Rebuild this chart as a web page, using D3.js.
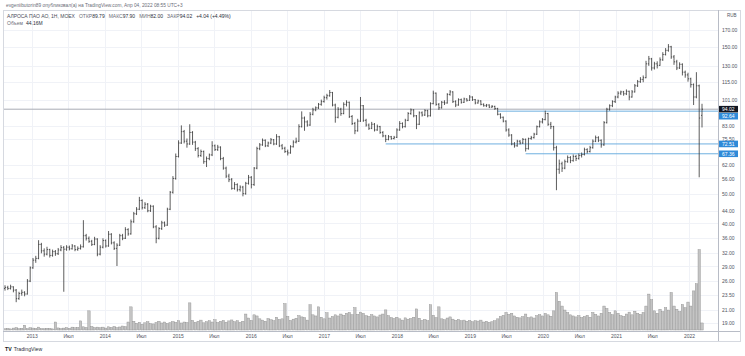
<!DOCTYPE html>
<html><head><meta charset="utf-8">
<script src="https://cdn.jsdelivr.net/npm/d3@7"></script>
<style>
body{margin:0;background:#fff;}
svg{display:block;font-family:"Liberation Sans",Arial,sans-serif;}
</style></head><body>
<svg id="c" width="745" height="356"></svg>
<script>
// ---- DATA (two-week OHLC bars, RUB; volume = avg weekly, millions) ----
const firstPeriod = "2012-08-20";
const closedPeriods = ["2022-03-07"];
const opens = [
24.6,24.8,24.6,24.9,24.3,22.8,23.7,23.9,23.6,26.0,
28.7,30.4,30.8,34.2,32.6,31.8,32.9,31.5,32.4,31.9,
32.8,33.4,33.0,33.5,33.1,33.8,32.9,33.2,33.6,36.5,
35.8,35.0,34.2,35.6,31.8,33.5,35.2,33.8,36.9,34.6,
33.2,34.0,36.5,35.8,38.2,37.0,40.5,43.0,44.5,47.5,
45.0,46.2,44.0,45.5,39.0,35.8,38.5,40.2,39.5,44.5,
50.5,56.0,66.0,73.0,79.5,74.0,72.5,79.0,73.5,70.0,
66.5,68.5,63.5,65.0,66.8,71.5,69.5,70.8,65.0,60.5,
57.0,55.5,52.0,53.5,51.5,52.5,50.0,54.0,56.5,53.5,
60.5,70.0,72.0,74.5,71.5,73.0,74.8,72.5,76.5,71.5,
70.2,68.5,67.8,71.0,73.5,74.0,82.5,88.0,85.5,83.5,
90.5,93.5,95.0,97.5,99.5,102.5,104.0,106.5,97.0,88.5,
94.0,91.0,97.5,99.0,89.0,84.5,80.0,86.0,96.5,86.5,
83.5,81.5,84.0,80.5,82.5,79.0,77.0,75.0,76.5,75.5,
76.2,80.5,84.5,82.5,86.5,91.0,93.5,89.5,84.0,91.5,
90.0,93.0,89.5,98.0,106.0,97.5,95.0,99.0,98.5,105.0,
107.0,99.5,97.0,101.0,99.0,101.5,100.5,103.0,101.0,98.5,
100.0,97.5,96.5,97.0,95.5,96.0,94.5,90.5,88.5,86.0,
80.5,77.5,72.5,71.5,74.0,73.0,75.0,70.0,75.5,76.0,
78.0,82.5,85.5,87.0,91.0,84.0,82.5,70.5,60.0,62.5,
60.5,63.5,65.5,64.0,66.0,65.0,66.5,67.0,69.5,68.5,
70.5,74.0,76.0,74.5,72.0,85.0,94.0,96.5,99.5,103.0,
106.0,107.0,105.5,107.5,103.0,107.0,112.0,115.5,117.5,119.0,
132.0,137.0,128.0,132.0,130.5,136.0,141.5,146.0,150.0,139.0,
134.0,128.0,131.5,124.0,121.5,118.0,113.0,103.0,112.0,89.79];
const highs = [
25.2,25.1,25.3,25.0,24.5,24.0,24.4,24.1,26.4,29.0,
30.9,31.4,35.3,34.6,33.2,33.6,33.1,32.9,32.8,33.3,
34.0,33.8,34.0,33.9,34.3,34.0,33.7,34.2,41.0,37.0,
36.3,35.4,36.2,35.8,34.0,35.8,35.5,37.8,37.2,35.0,
34.5,37.0,37.0,38.9,38.6,41.2,43.6,45.2,48.8,47.9,
46.9,46.6,46.0,45.8,39.5,38.9,40.8,40.6,45.0,51.0,
57.0,67.5,74.5,83.3,80.5,75.5,84.0,79.8,74.2,70.8,
69.5,69.0,66.0,67.5,74.0,72.2,72.0,71.2,65.8,61.2,
58.0,56.2,54.5,54.0,53.2,53.0,54.6,57.5,57.0,61.0,
71.0,73.0,75.5,75.0,73.8,75.8,75.2,78.0,77.0,72.5,
71.0,69.5,71.8,74.5,76.0,84.0,92.5,89.0,86.5,92.0,
95.0,96.0,98.5,101.0,104.0,105.5,108.5,107.0,98.0,95.5,
95.0,99.0,100.5,99.5,90.0,85.5,87.5,103.0,97.0,87.5,
84.5,85.5,84.8,83.8,83.0,79.8,77.6,77.5,77.0,77.0,
81.5,86.0,85.2,87.5,92.0,94.5,94.0,90.0,92.5,92.5,
94.0,93.6,99.0,108.0,106.5,98.5,100.0,100.5,106.0,108.5,
107.5,100.5,102.0,101.8,102.5,102.0,104.5,103.5,101.5,101.0,
100.5,98.2,97.8,97.5,97.0,96.5,95.0,91.2,89.0,86.5,
81.5,78.0,73.5,74.8,74.6,75.8,75.5,76.0,77.0,78.8,
83.2,86.5,88.0,93.0,91.5,85.5,83.0,71.5,64.5,63.5,
64.5,66.5,66.2,67.0,66.8,67.5,68.0,70.5,70.2,71.5,
75.0,77.2,76.8,75.0,86.0,95.0,97.5,100.5,104.0,107.5,
108.0,107.8,109.0,108.0,108.5,113.5,117.0,119.5,121.0,135.0,
140.0,138.0,134.0,134.5,138.5,144.0,148.5,153.0,151.0,141.0,
136.0,133.5,132.5,125.5,123.5,119.0,114.0,124.0,113.0,97.90];
const lows = [
24.2,24.3,24.4,23.9,22.2,22.6,23.3,23.2,23.5,25.8,
28.5,29.8,30.6,32.0,31.2,31.5,31.0,31.2,31.4,31.6,
32.5,24.0,32.6,32.7,32.9,32.5,32.6,32.9,33.4,35.2,
34.6,33.8,34.0,31.3,31.5,33.2,33.4,33.6,34.2,32.8,
29.1,33.8,35.3,35.6,36.5,36.8,40.2,42.6,44.2,44.4,
44.6,43.5,43.6,38.6,34.5,35.5,38.1,39.0,39.3,44.2,
50.0,55.5,65.5,72.5,72.8,70.5,72.0,72.0,68.8,65.5,
65.8,62.5,61.0,64.2,66.2,68.8,68.8,64.2,59.8,56.2,
54.5,51.5,51.5,50.8,50.8,49.0,49.6,53.5,52.0,53.0,
60.0,69.2,71.5,70.8,70.9,72.4,71.8,72.0,70.8,69.5,
67.8,66.5,67.4,70.6,72.8,73.6,82.0,80.0,82.5,83.0,
89.8,92.6,94.2,96.5,98.8,101.0,103.2,96.0,85.0,87.8,
89.5,90.5,96.0,88.0,83.5,78.0,79.5,85.5,85.5,82.5,
80.5,81.0,79.6,80.0,78.2,76.2,73.5,74.5,74.8,75.0,
75.8,80.0,81.5,82.0,86.0,90.2,88.5,81.0,83.5,89.0,
89.4,88.5,89.0,97.5,96.5,93.5,94.5,97.0,98.0,104.0,
98.5,95.5,96.5,98.0,98.5,99.5,100.0,100.0,97.5,98.0,
96.8,95.8,95.5,94.8,95.0,93.5,89.8,87.5,85.2,79.5,
76.5,71.8,70.5,71.0,72.2,72.5,68.5,69.5,74.8,75.5,
77.5,82.0,84.5,86.5,83.0,81.0,69.0,51.3,58.0,58.8,
60.0,63.0,62.8,63.5,63.8,64.5,65.5,66.5,67.5,68.0,
70.0,73.5,73.5,70.5,71.5,84.5,93.0,95.5,98.5,102.0,
104.5,104.0,104.5,100.5,102.5,106.5,111.0,114.5,115.0,118.5,
130.0,125.5,126.5,127.5,130.0,135.0,140.5,144.5,137.0,131.0,
126.0,127.0,121.0,119.0,115.5,110.5,97.0,102.0,56.5,82.00];
const closes = [
24.8,24.6,24.9,24.3,22.8,23.7,23.9,23.6,26.0,28.7,
30.4,30.8,34.2,32.6,31.8,32.9,31.5,32.4,31.9,32.8,
33.4,33.0,33.5,33.1,33.8,32.9,33.2,33.6,36.5,35.8,
35.0,34.2,35.6,31.8,33.5,35.2,33.8,36.9,34.6,33.2,
34.0,36.5,35.8,38.2,37.0,40.5,43.0,44.5,47.5,45.0,
46.2,44.0,45.5,39.0,35.8,38.5,40.2,39.5,44.5,50.5,
56.0,66.0,73.0,79.5,74.0,72.5,79.0,73.5,70.0,66.5,
68.5,63.5,65.0,66.8,71.5,69.5,70.8,65.0,60.5,57.0,
55.5,52.0,53.5,51.5,52.5,50.0,54.0,56.5,53.5,60.5,
70.0,72.0,74.5,71.5,73.0,74.8,72.5,76.5,71.5,70.2,
68.5,67.8,71.0,73.5,74.0,82.5,88.0,85.5,83.5,90.5,
93.5,95.0,97.5,99.5,102.5,104.0,106.5,97.0,88.5,94.0,
91.0,97.5,99.0,89.0,84.5,80.0,86.0,96.5,86.5,83.5,
81.5,84.0,80.5,82.5,79.0,77.0,75.0,76.5,75.5,76.2,
80.5,84.5,82.5,86.5,91.0,93.5,89.5,84.0,91.5,90.0,
93.0,89.5,98.0,106.0,97.5,95.0,99.0,98.5,105.0,107.0,
99.5,97.0,101.0,99.0,101.5,100.5,103.0,101.0,98.5,100.0,
97.5,96.5,97.0,95.5,96.0,94.5,90.5,88.5,86.0,80.5,
77.5,72.5,71.5,74.0,73.0,75.0,70.0,75.5,76.0,78.0,
82.5,85.5,87.0,91.0,84.0,82.5,70.5,60.0,62.5,60.5,
63.5,65.5,64.0,66.0,65.0,66.5,67.0,69.5,68.5,70.5,
74.0,76.0,74.5,72.0,85.0,94.0,96.5,99.5,103.0,106.0,
107.0,105.5,107.5,103.0,107.0,112.0,115.5,117.5,119.0,132.0,
137.0,128.0,132.0,130.5,136.0,141.5,146.0,150.0,139.0,134.0,
128.0,131.5,124.0,121.5,118.0,113.0,103.0,112.0,88.0,94.02];
const volumes = [
8,10,7,12,15,9,11,30,9,14,12,10,18,9,8,11,10,7,50,13,9,
12,15,11,18,14,16,57,20,16,120,22,15,18,
14,18,12,20,16,22,15,19,25,21,
50,145,
55,42,48,36,45,52,40,38,47,55,44,50,41,46,53,48,58,44,50,47,170,
60,48,55,62,45,52,58,50,64,47,55,60,49,57,63,52,58,48,55,100,
75,60,95,88,70,62,55,72,64,58,80,66,70,165,85,60,68,74,90,82,
78,62,158,95,88,145,80,70,108,75,85,95,88,100,92,105,110,96,140,98,
112,104,90,85,96,88,82,94,100,126,90,78,72,80,
70,62,76,68,72,80,132,74,60,66,58,158,92,78,145,70,64,75,82,68,
60,66,58,62,55,60,52,58,56,62,50,55,48,52,58,70,
85,92,110,98,105,88,80,76,84,100,78,82,75,90,96,88,104,95,86,120,
235,
180,150,125,110,95,88,82,90,78,
85,92,80,110,98,88,105,150,135,110,96,120,105,90,85,100,112,95,118,105,98,110,150,
225,190,
120,105,130,115,140,125,
235,
150,130,115,160,140,175,
150,245,290,504,44.16];
const yTicks = [170,150,130,115,101,83,75.5,62,56,50,44,40,36,32,29,26,23.5,21,19];
const xTicks = ["2013-01-01","2013-07-01","2014-01-01","2014-07-01","2015-01-01","2015-07-01",
"2016-01-01","2016-07-01","2017-01-01","2017-07-01","2018-01-01","2018-07-01","2019-01-01",
"2019-07-01","2020-01-01","2020-07-01","2021-01-01","2021-07-01","2022-01-01"];
const xTickLabels = ["2013","Июл","2014","Июл","2015","Июл","2016","Июл","2017","Июл","2018","Июл",
"2019","Июл","2020","Июл","2021","Июл","2022"];
const lastPrice = 94.02;
const levelValues = [92.64, 72.51, 67.36];
const levelStarts = ["2019-05-20","2017-11-06","2019-10-07"];
const headerUser = "evgeniibutorin89 опубликовал(а) на TradingView.com, Апр 04, 2022 08:55 UTC+3";
const headerTitle = "АЛРОСА ПАО АО, 1Н, MOEX";
const headerFields = [["ОТКР","89.79"],["МАКС","97.90"],["МИН","82.00"],["ЗАКР","94.02"]];
const headerChange = "+4.04 (+4.49%)";
const volumeLabel = ["Объем","44.16M"];

// ---- CHART ----
const svg = d3.select("#c");
const W = 745, H = 356;
const L = 3, T = 10, PR = 718, PB = 331, R = 740, B = 341;
const N = closes.length;
const parse = d3.utcParse("%Y-%m-%d");
const fmtDay = d3.utcFormat("%Y-%m-%d");
const dates = [];
let dd = parse(firstPeriod);
while (dates.length < N) {
  if (!closedPeriods.includes(fmtDay(dd))) dates.push(dd);
  dd = d3.utcDay.offset(dd, 14);
}
const x = d3.scaleLinear().domain([0, N - 1]).range([5, 702]);
const xTime = d3.scaleUtc().domain(dates).range(dates.map((d, i) => x(i)));
const y = d3.scaleLog().domain([19, 170]).range([323, 30]);
const yv = d3.scaleLinear().domain([0, 520]).range([PB - 1, 247]);

svg.append("rect").attr("width", W).attr("height", H).attr("fill", "#fff");
const defs = svg.append("defs");
defs.append("clipPath").attr("id", "plot").append("rect")
  .attr("x", L).attr("y", T).attr("width", PR - L).attr("height", PB - T);

// grid
const grid = svg.append("g").attr("stroke", "#f0f2f7").attr("stroke-width", 1);
yTicks.forEach(v => grid.append("line").attr("x1", L).attr("x2", PR)
  .attr("y1", Math.round(y(v)) + 0.5).attr("y2", Math.round(y(v)) + 0.5));
xTicks.forEach(s => { const xx = Math.round(xTime(parse(s))) + 0.5;
  grid.append("line").attr("x1", xx).attr("x2", xx).attr("y1", T).attr("y2", PB); });

const plot = svg.append("g").attr("clip-path", "url(#plot)");

// volume
plot.append("g").selectAll("rect").data(volumes).join("rect")
  .attr("x", (d, i) => x(i) - 1.2)
  .attr("width", 2.4)
  .attr("y", d => yv(d))
  .attr("height", d => Math.max(0.5, yv(0) - yv(d)))
  .attr("fill", "#c4c4c4")
  .attr("stroke", "#8c8c8c")
  .attr("stroke-width", 0.4);

// price line and levels
plot.append("line").attr("x1", L).attr("x2", PR)
  .attr("y1", y(lastPrice)).attr("y2", y(lastPrice))
  .attr("stroke", "#a9acb4").attr("stroke-width", 1);
levelValues.forEach((v, i) => {
  plot.append("line").attr("x1", xTime(parse(levelStarts[i]))).attr("x2", PR)
    .attr("y1", y(v)).attr("y2", y(v))
    .attr("stroke", "#6fb0e0").attr("stroke-width", 1);
});

// OHLC bars
let p = "";
for (let i = 0; i < N; i++) {
  const xi = x(i);
  p += `M${xi},${y(highs[i])}V${y(lows[i])}`;
  p += `M${xi - 1},${y(opens[i])}H${xi}`;
  p += `M${xi},${y(closes[i])}H${xi + 1}`;
}
plot.append("path").attr("d", p).attr("fill", "none")
  .attr("stroke", "#333").attr("stroke-width", 0.8);

// frame
const fr = svg.append("g").attr("stroke", "#d6d9e0").attr("fill", "none");
fr.append("rect").attr("x", L + 0.5).attr("y", T + 0.5).attr("width", R - L).attr("height", B - T);
fr.append("line").attr("x1", PR + 0.5).attr("x2", PR + 0.5).attr("y1", T).attr("y2", B).attr("stroke", "#b8bcc6");
fr.append("line").attr("x1", L).attr("x2", R).attr("y1", PB + 0.5).attr("y2", PB + 0.5).attr("stroke", "#b8bcc6");

// axes
const yAx = svg.append("g").attr("transform", `translate(${PR},0)`)
  .call(d3.axisRight(y).tickValues(yTicks).tickFormat(d3.format(".2f")).tickSize(0).tickPadding(4));
yAx.select(".domain").remove();
yAx.selectAll("text").attr("font-size", 5).attr("fill", "#50535e").attr("font-family", "Liberation Sans, Arial, sans-serif");

const xAx = svg.append("g").attr("transform", `translate(0,${PB})`)
  .call(d3.axisBottom(xTime).tickValues(xTicks.map(parse))
    .tickFormat((d, i) => xTickLabels[i]).tickSize(0).tickPadding(3));
xAx.select(".domain").remove();
xAx.selectAll("text").attr("font-size", 5).attr("fill", "#50535e").attr("font-family", "Liberation Sans, Arial, sans-serif");

svg.append("text").attr("x", 727).attr("y", 16.5).attr("font-size", 4.5)
  .attr("fill", "#50535e").text("RUB");

// right labels
const lbls = [{v: lastPrice, bg: "#131722"}].concat(levelValues.map(v => ({v, bg: "#2f8ad8"})));
lbls.forEach(l => l.yy = y(l.v));
lbls.sort((a, b) => a.yy - b.yy);
for (let i = 1; i < lbls.length; i++) if (lbls[i].yy < lbls[i - 1].yy + 7) lbls[i].yy = lbls[i - 1].yy + 7;
lbls.forEach(l => {
  svg.append("rect").attr("x", PR + 1).attr("y", l.yy - 3.3).attr("width", 19).attr("height", 6.6).attr("fill", l.bg);
  svg.append("text").attr("x", PR + 4).attr("y", l.yy + 1.8).attr("font-size", 5)
    .attr("fill", "#fff").text(d3.format(".2f")(l.v));
});

// header
svg.append("text").attr("x", 6).attr("y", 6.5).attr("font-size", 4.8).attr("fill", "#6a6d78").text(headerUser);
const h2 = svg.append("text").attr("x", 7).attr("y", 18).attr("font-size", 5).attr("fill", "#4a4d57");
h2.append("tspan").text(headerTitle);
headerFields.forEach(f => {
  h2.append("tspan").attr("dx", 4).attr("fill", "#6a6d78").text(f[0]);
  h2.append("tspan").attr("fill", "#2a2e39").text(f[1]);
});
h2.append("tspan").attr("dx", 4).attr("fill", "#2a2e39").text(headerChange);
const h3 = svg.append("text").attr("x", 7).attr("y", 24.5).attr("font-size", 5).attr("fill", "#6a6d78");
h3.append("tspan").text(volumeLabel[0]);
h3.append("tspan").attr("dx", 3).attr("fill", "#2a2e39").text(volumeLabel[1]);

// footer logo
const ft = svg.append("text").attr("x", 5).attr("y", 351).attr("font-size", 5.2).attr("fill", "#131722");
ft.append("tspan").attr("font-weight", "bold").text("TV");
ft.append("tspan").attr("dx", 2).attr("fill", "#2a2e39").text("TradingView");
</script>
</body></html>
